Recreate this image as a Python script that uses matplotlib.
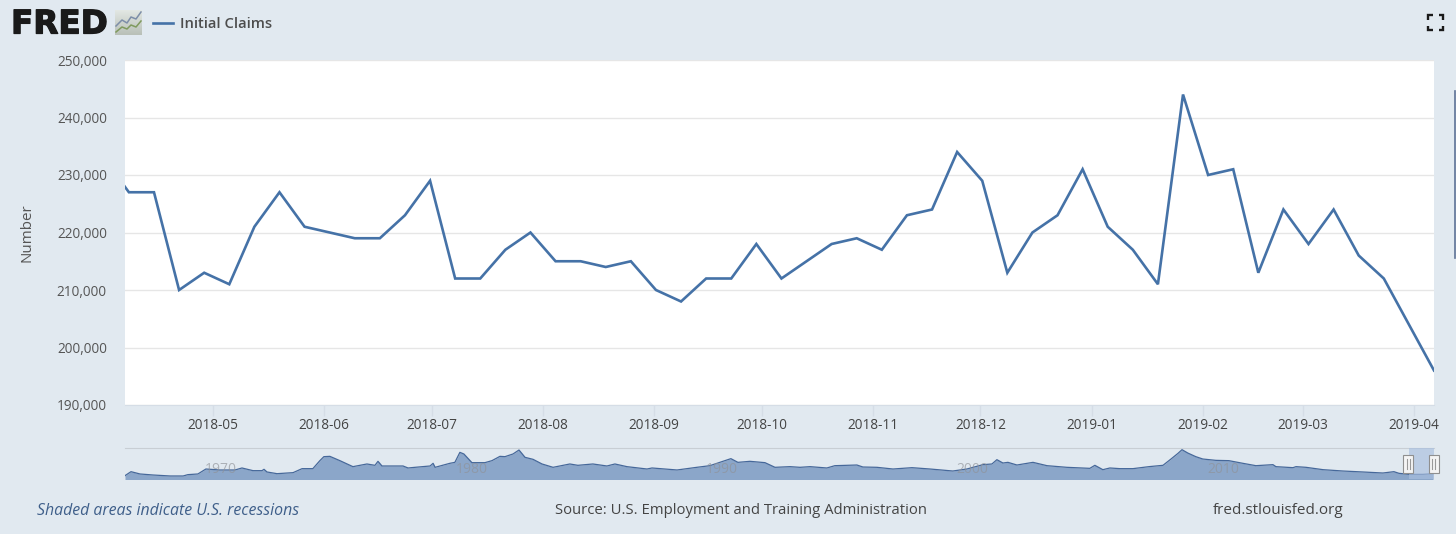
import matplotlib
matplotlib.use("Agg")
import matplotlib.pyplot as plt
import matplotlib.dates as mdates
import matplotlib.patheffects as pe
from matplotlib.colors import LinearSegmentedColormap
from matplotlib.lines import Line2D
from matplotlib.patches import Rectangle
from matplotlib.ticker import FuncFormatter
import numpy as np
import pandas as pd

plt.rcParams['font.family'] = ['Open Sans', 'DejaVu Sans']

W, H = 1456, 534
BG = '#e1e9f0'
LINE = '#4572a7'

# Weekly initial claims (first point lies just outside the visible window)
week_start = '2018-03-31'
claims = [233000, 227000, 227000, 210000, 213000, 211000, 221000, 227000, 221000, 220000,
          219000, 219000, 223000, 229000, 212000, 212000, 217000, 220000, 215000, 215000,
          214000, 215000, 210000, 208000, 212000, 212000, 218000, 212000, 215000, 218000,
          219000, 217000, 223000, 224000, 234000, 229000, 213000, 220000, 223000, 231000,
          221000, 217000, 211000, 244000, 230000, 231000, 213000, 224000, 218000, 224000,
          216000, 212000, 204000, 196000]
month_labels = ['2018-05', '2018-06', '2018-07', '2018-08', '2018-09', '2018-10',
                '2018-11', '2018-12', '2019-01', '2019-02', '2019-03', '2019-04']
y_ticks = [190000, 200000, 210000, 220000, 230000, 240000, 250000]

# Overview (navigator) series, thousands
nav_years = [1967.00, 1967.24, 1967.60, 1968.12, 1968.80, 1969.32, 1969.51, 1969.91, 1970.23, 1970.79,
             1971.39, 1971.67, 1972.11, 1972.47, 1972.55, 1972.67, 1973.07, 1973.71, 1974.07, 1974.50,
             1974.78, 1974.94, 1975.18, 1975.58, 1976.10, 1976.66, 1976.98, 1977.10, 1977.26, 1978.10,
             1978.30, 1978.58, 1979.18, 1979.30, 1979.38, 1979.97, 1980.17, 1980.37, 1980.53, 1980.85,
             1981.37, 1981.65, 1981.97, 1982.17, 1982.49, 1982.73, 1982.97, 1983.29, 1983.65, 1984.09,
             1984.76, 1985.08, 1985.68, 1986.24, 1986.56, 1987.04, 1987.84, 1988.04, 1989.04, 1989.83,
             1990.35, 1990.87, 1991.19, 1991.47, 1991.95, 1992.55, 1992.95, 1993.55, 1993.95, 1994.35,
             1995.02, 1995.34, 1996.22, 1996.46, 1997.02, 1997.66, 1998.42, 1999.14, 2000.05, 2000.61,
             2001.25, 2001.61, 2001.81, 2002.05, 2002.25, 2002.61, 2003.25, 2003.81, 2004.60, 2005.52,
             2005.72, 2006.04, 2006.32, 2006.72, 2007.24, 2007.88, 2008.44, 2008.76, 2009.04, 2009.20,
             2009.43, 2009.75, 2010.03, 2010.55, 2011.07, 2011.63, 2012.15, 2012.83, 2012.95, 2013.63,
             2013.75, 2014.15, 2014.83, 2015.62, 2016.42, 2017.22, 2017.66, 2017.86, 2018.26, 2018.82,
             2019.22]
nav_values = [173, 251, 206, 186, 167, 167, 193, 206, 303, 284,
              284, 323, 271, 271, 297, 245, 212, 232, 310, 310,
              466, 544, 550, 466, 349, 401, 375, 453, 362, 362,
              323, 336, 362, 414, 336, 414, 433, 628, 596, 427,
              427, 466, 550, 544, 596, 674, 531, 492, 401, 336,
              401, 375, 401, 362, 401, 349, 303, 323, 284, 336,
              368, 453, 505, 433, 453, 427, 336, 349, 336, 349,
              323, 368, 381, 342, 336, 303, 329, 303, 264, 303,
              388, 401, 485, 420, 433, 381, 433, 368, 336, 316,
              375, 290, 323, 310, 310, 349, 375, 498, 609, 680,
              615, 544, 498, 472, 466, 414, 368, 388, 349, 329,
              349, 336, 290, 264, 245, 225, 251, 219, 199, 199,
              212]
nav_year_labels = [1970, 1980, 1990, 2000, 2010]


def fx(px):
    return px / W


def fy(py):
    return 1 - py / H


def axes_rect(x0, y0, x1, y1):
    return [fx(x0), fy(y1), (x1 - x0) / W, (y1 - y0) / H]


fig = plt.figure(figsize=(W / 100, H / 100), dpi=100, facecolor=BG)

# Main plot
ax = fig.add_axes(axes_rect(125, 60, 1434, 405))
dates = pd.date_range(week_start, periods=len(claims), freq='7D')
ax.plot(dates, claims, color=LINE, lw=1.9, solid_joinstyle='miter', zorder=3)
ax.set_ylim(190000, 250000)
ax.set_xlim(pd.Timestamp('2018-04-07') - pd.Timedelta(hours=26), pd.Timestamp('2019-04-06'))
ax.set_yticks(y_ticks)
ax.yaxis.set_major_formatter(FuncFormatter(lambda v, _: f'{int(v):,}'))
ax.set_xticks([mdates.date2num(pd.Timestamp(m + '-01') - pd.Timedelta(hours=12)) for m in month_labels])
ax.set_xticklabels(month_labels)
ax.grid(axis='y', color='#e6e6e6', lw=1)
ax.set_axisbelow(True)
for side in ['top', 'left', 'right']:
    ax.spines[side].set_visible(False)
ax.spines['bottom'].set_color('#d5dde6')
ax.tick_params(axis='y', length=0, pad=13, labelsize=9.8, labelcolor='#555555')
ax.tick_params(axis='x', length=8, width=1, color='#d5dde6', pad=1.4, labelsize=9.8, labelcolor='#444444')
fig.text(fx(27), fy(232.5), 'Number', rotation=90, ha='center', va='center', fontsize=10.9, color='#555555')

# Navigator
nav = fig.add_axes(axes_rect(125, 448, 1434, 479))
nav.set_facecolor('none')
nav.fill_between(nav_years, nav_values, 0, color='#8ba6c9', lw=0, zorder=2)
nav.plot(nav_years, nav_values, color='#46689a', lw=0.9, zorder=3)
nav.set_xlim(1967, 2019.26)
nav.set_ylim(108, 713)
nav.set_xticks([])
nav.set_yticks([])
for side in ['left', 'right', 'bottom']:
    nav.spines[side].set_visible(False)
nav.spines['top'].set_color('#c8ced4')
for yr in nav_year_labels:
    nav.annotate(str(yr), (yr, 0), xycoords=('data', 'axes fraction'), xytext=(3.6, 1.6),
                 textcoords='offset points', ha='left', va='bottom', fontsize=10,
                 color='#8f9298', alpha=0.65, zorder=4)
nav.add_patch(Rectangle((2018.26, 0), 2019.26 - 2018.26, 1, transform=nav.get_xaxis_transform(),
                        facecolor='#a9bfdf', alpha=0.65, lw=0, zorder=4))


def handle(xc):
    fig.add_artist(Rectangle((fx(xc - 5), fy(473)), 10 / W, 18 / H, transform=fig.transFigure,
                             facecolor='#f4f4f4', edgecolor='#8f8f8f', lw=0.8, zorder=6))
    for dx in (-1.5, 1.5):
        fig.add_artist(Line2D([fx(xc + dx)] * 2, [fy(459), fy(469)], color='#999999', lw=0.8, zorder=7))


handle(1408)
handle(1433.5)

# Header
fig.text(fx(11), fy(24), 'FRED', fontfamily='DejaVu Sans', fontweight='bold', fontsize=23.5, color='#1a1a1a',
         ha='left', va='center', path_effects=[pe.withStroke(linewidth=0.9, foreground='#1a1a1a')])
icon = fig.add_axes(axes_rect(115, 10, 142, 35))
icon.imshow(np.linspace(0, 1, 25).reshape(-1, 1), aspect='auto',
            cmap=LinearSegmentedColormap.from_list('icon', ['#e2e7e3', '#b9c0b8']))
icon.axis('off')
fig.add_artist(Line2D([fx(v) for v in (116, 122, 127, 131, 136, 141)],
                      [fy(v) for v in (26, 20, 23, 17, 19, 12)], color='#7d8ea8', lw=1.1))
fig.add_artist(Line2D([fx(v) for v in (116, 122, 127, 131, 136, 141)],
                      [fy(v) for v in (32, 27, 29, 25, 27, 21)], color='#7f9a5e', lw=1.1))
fig.add_artist(Line2D([fx(153), fx(173)], [fy(23), fy(23)], color=LINE, lw=1.9))
fig.text(fx(180), fy(23.5), 'Initial Claims', fontsize=10.6, fontweight='semibold', color='#4d4d4d',
         ha='left', va='center')

# Full-screen icon
for cx, cy, sx, sy in [(1428, 15, 1, 1), (1443, 15, -1, 1), (1428, 30, 1, -1), (1443, 30, -1, -1)]:
    fig.add_artist(Line2D([fx(cx), fx(cx), fx(cx + 4.5 * sx)], [fy(cy + 4.5 * sy), fy(cy), fy(cy)],
                          color='#1a1a1a', lw=1.7, solid_joinstyle='miter', solid_capstyle='butt'))

# Footer
fig.text(fx(37), fy(511), 'Shaded areas indicate U.S. recessions', style='italic', fontsize=11.4,
         color='#3f5f8a', ha='left', va='center')
fig.text(fx(555), fy(511), 'Source: U.S. Employment and Training Administration', fontsize=10.75,
         color='#444444', ha='left', va='center')
fig.text(fx(1213), fy(511), 'fred.stlouisfed.org', fontsize=10.95, color='#444444', ha='left', va='center')

# Cropped element at right edge
fig.add_artist(Line2D([fx(1455), fx(1455)], [fy(91), fy(258)], color='#5f7396', lw=1.2))

fig.savefig('out.png', dpi=100, facecolor=BG)
